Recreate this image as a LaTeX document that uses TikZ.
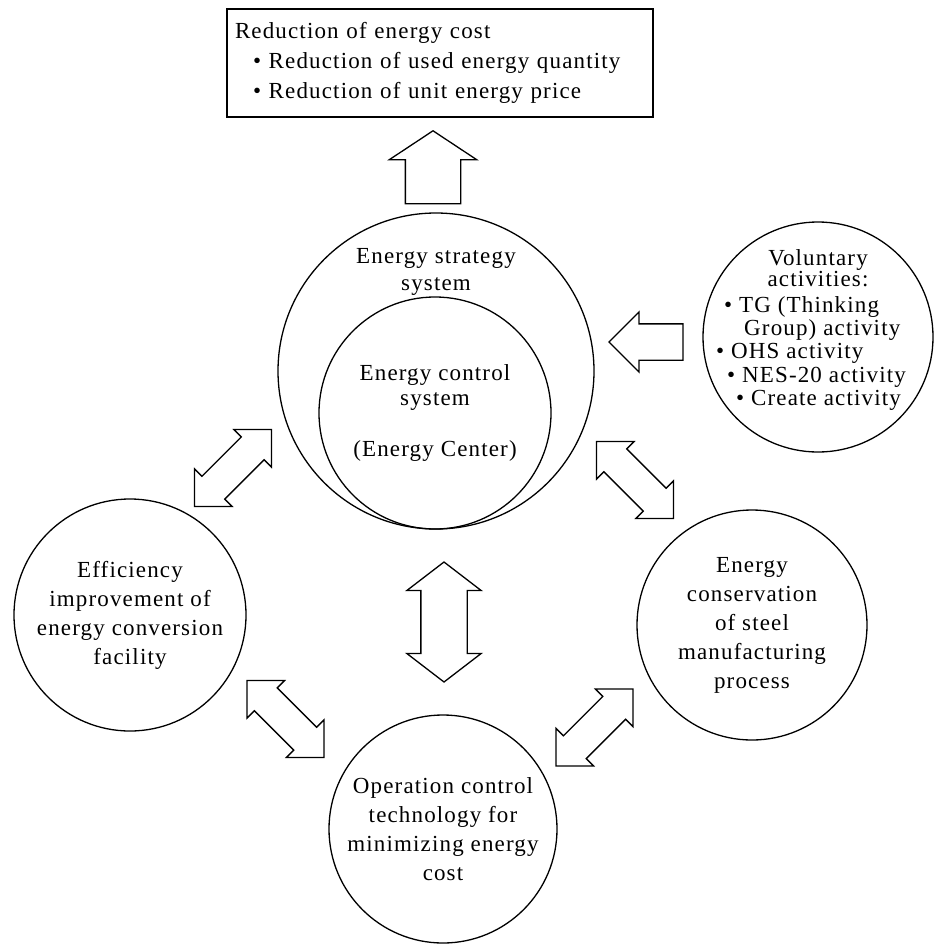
\documentclass[tikz,border=0pt]{standalone}
\usepackage{fontspec}
\setmainfont{Liberation Serif}[LetterSpace=5]
\usetikzlibrary{shapes.arrows,positioning}

\begin{document}
\begin{tikzpicture}[
  x=1pt,y=-1pt,
  font=\fontsize{23}{29}\selectfont,
  ln/.style={line width=1.3pt},
  cir/.style={circle,draw,ln,align=center,inner sep=0pt},
  blk/.style={draw,ln,inner xsep=0pt},
  upar/.style={blk,single arrow,single arrow tip angle=113,
               single arrow head extend=16pt,inner ysep=27pt,minimum height=73pt},
  inar/.style={blk,single arrow,single arrow tip angle=90,
               single arrow head extend=12pt,inner ysep=17.5pt,minimum height=74pt},
  vtar/.style={blk,double arrow,double arrow tip angle=105,
               double arrow head extend=14pt,inner ysep=22.5pt,minimum height=120pt},
  dgar/.style={blk,double arrow,double arrow tip angle=90,
               double arrow head extend=10.5pt,inner ysep=15.5pt,minimum height=109pt},
  ]
  \useasboundingbox (0,0) rectangle (935,945);
  % result box
  \node[draw,ln,minimum width=426pt,minimum height=108pt,text width=410pt,
        inner xsep=8pt,align=left,font=\fontsize{23}{30}\selectfont] (cost) at (440,63)
    {Reduction of energy cost\\
     \hspace*{18pt}\textbullet\ Reduction of used energy quantity\\
     \hspace*{18pt}\textbullet\ Reduction of unit energy price};
  % circles
  \node[cir,minimum size=316pt] (strat) at (436,371) {};
  \node[font=\fontsize{23}{27}\selectfont,align=center] (strattxt) at (436,272)
    {Energy strategy\\system};
  \node[cir,minimum size=232pt,font=\fontsize{23}{25}\selectfont] (ctrl) at (435,413)
    {Energy control\\system\\[26pt](Energy Center)};
  \node[cir,minimum size=230pt] (vol) at (818,337) {};
  \node[font=\fontsize{23}{20}\selectfont,align=center] (volhead) at (818,268)
    {Voluntary\\activities:};
  \node[font=\fontsize{23}{23.3}\selectfont,align=left,inner sep=0pt,
        anchor=north west] (vollist) at (716,296)
    {\hspace*{8pt}\textbullet\ TG (Thinking\\
     \hspace*{28pt}Group) activity\\
     \textbullet\ OHS activity\\
     \hspace*{11pt}\textbullet\ NES-20 activity\\
     \hspace*{20pt}\textbullet\ Create activity};
  \node[cir,minimum size=232pt] (eff) at (130,615)
    {Efficiency\\improvement of\\energy conversion\\facility};
  \node[cir,minimum size=230pt] (cons) at (752,625)
    {Energy\\conservation\\of steel\\manufacturing\\process};
  \node[cir,minimum size=228pt] (oper) at (443,829)
    {Operation control\\technology for\\minimizing energy\\cost};
  % block arrows
  \node[upar,rotate=90,anchor=tip]  (toCost) at (433,130) {};
  \node[inar,rotate=180,anchor=tip] (fromVol) at (608,342) {};
  \node[vtar,rotate=90]  (stratOper) at (444,622) {};
  \node[dgar,rotate=45]  (effStrat) at (233,468) {};
  \node[dgar,rotate=-45] (stratCons) at (635,480) {};
  \node[dgar,rotate=-45] (effOper) at (285.5,719) {};
  \node[dgar,rotate=45]  (operCons) at (594.5,727.5) {};
\end{tikzpicture}
\end{document}
